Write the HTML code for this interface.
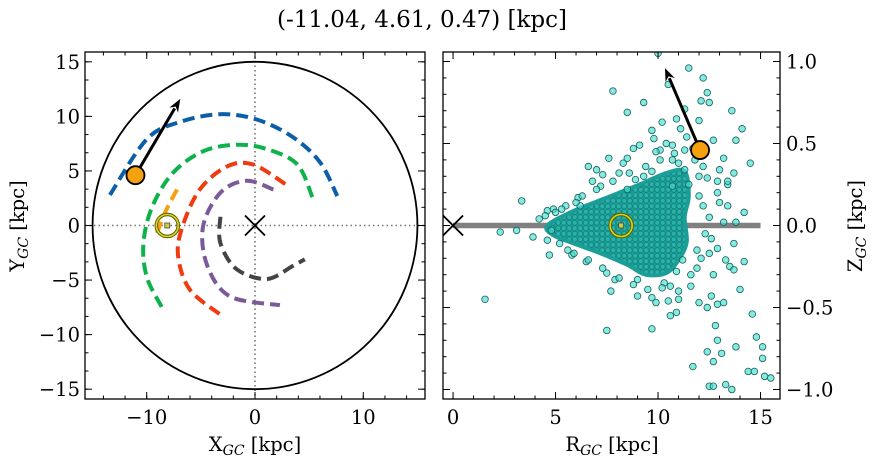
<!DOCTYPE html>
<html><head><meta charset="utf-8">
<style>
html,body{margin:0;padding:0;background:#fff;}
svg{display:block;font-family:"DejaVu Serif","Liberation Serif",serif;}
</style></head>
<body>
<svg id="fig" width="874" height="464" viewBox="0 0 874 464" xmlns="http://www.w3.org/2000/svg">
<defs>
<pattern id="dots" width="5.5" height="5.5" patternUnits="userSpaceOnUse">
<rect width="5.5" height="5.5" fill="#1a9e97"/>
<circle cx="2.75" cy="2.75" r="2.4" fill="#27b3aa" stroke="#137a74" stroke-width="0.6"/>
</pattern>
<clipPath id="clipL"><rect x="85" y="52" width="340" height="347"/></clipPath>
<clipPath id="clipR"><rect x="443" y="52" width="337" height="347"/></clipPath>
</defs>
<text x="422" y="27" font-size="23" text-anchor="middle">(-11.04, 4.61, 0.47) [kpc]</text>
<g id="left"></g>
<g id="right"></g>
</svg>
<script>
// ---------- data ----------
const blueArcX = [-13.4,-10,-6.9,-3.2,0.2,3.5,6.0,7.6];
const blueArcY = [2.8,7.9,9.5,10.2,9.7,8.1,5.8,2.7];
const greenArcX = [5.3,3.9,1.1,-1.7,-4.8,-7.6,-9.5,-10.3,-10,-8.6];
const greenArcY = [2.6,5.6,7.0,7.4,6.8,4.8,1.7,-1.6,-4.7,-7.5];
const redArcX = [2.8,-0.2,-2.6,-5.1,-6.7,-7.1,-6,-3.0];
const redArcY = [3.8,5.6,5.4,3.3,-0.1,-2.8,-5.9,-8.3];
const purpleArcX = [1.7,-0.8,-3.2,-4.8,-4.4,-2.3,2.3];
const purpleArcY = [3.3,4.1,3.0,-0.1,-3.7,-6.5,-7.3];
const grayArcX = [-3.2,-3.2,-1.7,1.1,3.5,4.6];
const grayArcY = [0.8,-1.6,-4.0,-4.9,-3.7,-3.1];
const orangeArcX = [-7.2,-8.3,-9.2];
const orangeArcY = [3.3,1.2,-1.1];
const starXY = [-11.04, 4.61];
const arrowTipXY = [-6.9, 11.6];
const sunXY = [-8.1, 0];
const starRZ = [12.05, 0.46];
const arrowTipRZ = [10.34, 0.96];
const sunRZ = [8.2, 0];
const coreR = [4.6,5.9,7.5,9.1,10.4,11.3,11.5,11.3,11.4,11.0,10.4,9.4,8.5,7.2,5.9,4.9];
const coreZ = [0.0,0.09,0.17,0.25,0.32,0.33,0.18,0.05,-0.10,-0.21,-0.29,-0.30,-0.24,-0.17,-0.11,-0.06];
const ptR = [10.0,11.5,12.2,7.8,10.5,12.4,9.3,8.5,12.1,12.5,13.6,11.3,10.2,10.9,14.1,9.7,12.0,12.7,13.8,14.5,8.8,10.1,6.6,7.0,7.6,8.5,13.2,13.7,13.4,12.9,13.4,14.2,13.8,13.2,3.35,2.3,3.1,3.9,4.7,1.56,7.5,9.7,9.0,7.7,9.7,10.6,10.9,11.6,12.0,12.4,12.6,12.9,13.2,12.8,12.9,13.1,13.8,12.4,12.7,11.7,12.5,12.7,13.3,13.6,14.4,14.7,14.8,15.1,15.1,15.2,15.5,14.6,14.0,14.2,13.7,13.5,13.3,12.9,12.5,12.7,13.7,11.9,11.2,10.6,11.0,10.3,9.0,7.9,7.5,6.5,5.8,5.6,4.2,4.6,4.9,6.1,6.2,11.7,11.4,11.1,10.7,9.8,9.1,8.1,9.3,10.7,11.3,12.2,12.4,13.0,13.4,12.9,13.0,8.5,7.2,10.7,
 5.5,6.3,7.0,7.8,8.6,9.4,10.1,10.8,11.3,9.9,10.4,11.0,12.0,12.2,12.3,12.1,11.6,11.0,10.2,9.5,8.8,8.1,7.3,6.6,5.9,5.2,4.6,4.5,5.0,8.3,7.3,6.8,9.9,10.5,12.5,12.6,11.8,11.5,10.9,9.7,8.9,6.0,5.3,4.8,11.9,12.0];
const ptZ = [1.05,0.96,0.90,0.82,0.86,0.81,0.75,0.69,0.76,0.75,0.70,0.71,0.63,0.65,0.59,0.58,0.64,0.52,0.52,0.38,0.47,0.46,0.36,0.34,0.41,0.41,0.41,0.32,0.25,0.20,0.12,0.08,0.02,0.02,0.15,-0.04,-0.03,-0.07,-0.18,-0.45,-0.64,-0.63,-0.43,-0.40,-0.44,-0.55,-0.53,-0.37,-0.47,-0.50,-0.43,-0.48,-0.47,-0.61,-0.70,-0.78,-0.74,-0.77,-0.83,-0.86,-0.98,-0.98,-0.97,-1.00,-0.89,-0.89,-0.68,-0.74,-0.81,-0.92,-0.93,-0.54,-0.39,-0.22,-0.11,-0.25,-0.21,-0.14,-0.17,-0.30,-0.27,-0.26,-0.21,-0.37,-0.45,-0.35,-0.33,-0.33,-0.29,-0.22,-0.18,-0.15,0.04,0.09,0.10,0.17,0.12,0.47,0.54,0.59,0.49,0.53,0.49,0.32,0.30,0.40,0.34,0.36,0.29,0.34,0.27,0.27,0.14,0.22,0.24,0.24,
 0.12,0.18,0.22,0.27,0.32,0.36,0.40,0.44,0.46,0.45,0.50,0.38,0.30,0.12,-0.05,-0.20,-0.30,-0.40,-0.38,-0.39,-0.36,-0.32,-0.26,-0.21,-0.17,-0.11,-0.09,0.06,0.08,0.38,0.31,0.27,-0.47,-0.46,0.05,-0.08,0.40,0.25,-0.28,0.33,0.28,0.14,0.10,-0.03,-0.15,0.18];
const xTicksL = [-10,0,10];
const yTicksL = [-15,-10,-5,0,5,10,15];
const xTicksR = [0,5,10,15];
const zTicksR = [-1.0,-0.5,0.0,0.5,1.0];

// ---------- helpers ----------
const NS = "http://www.w3.org/2000/svg";
function mk(tag, attrs, parent){const e=document.createElementNS(NS,tag);for(const k in attrs)e.setAttribute(k,attrs[k]);if(parent)parent.appendChild(e);return e;}
const L={x0:85,x1:425,y0:52,y1:399,xmin:-15.7,xmax:15.7,ymin:-15.9,ymax:15.9};
const sxL=v=>L.x0+(v-L.xmin)/(L.xmax-L.xmin)*(L.x1-L.x0);
const syL=v=>L.y1-(v-L.ymin)/(L.ymax-L.ymin)*(L.y1-L.y0);
const R={x0:443,x1:780,y0:52,y1:399,xmin:-0.49,xmax:15.95,ymin:-1.058,ymax:1.058};
const sxR=v=>R.x0+(v-R.xmin)/(R.xmax-R.xmin)*(R.x1-R.x0);
const syR=v=>R.y1-(v-R.ymin)/(R.ymax-R.ymin)*(R.y1-R.y0);

const gL=document.getElementById('left');
const gR=document.getElementById('right');

function smoothPath(xs,ys,sx,sy,closed){
  const p=xs.map((x,i)=>[sx(x),sy(ys[i])]);
  const n=p.length;
  const get=i=>closed?p[(i+n)%n]:p[Math.max(0,Math.min(n-1,i))];
  let d=`M${p[0][0]},${p[0][1]}`;
  const segs=closed?n:n-1;
  for(let i=0;i<segs;i++){
    const p0=get(i-1),p1=get(i),p2=get(i+1),p3=get(i+2);
    const c1=[p1[0]+(p2[0]-p0[0])/6,p1[1]+(p2[1]-p0[1])/6];
    const c2=[p2[0]-(p3[0]-p1[0])/6,p2[1]-(p3[1]-p1[1])/6];
    d+=` C${c1[0]},${c1[1]} ${c2[0]},${c2[1]} ${p2[0]},${p2[1]}`;
  }
  return d+(closed?'Z':'');
}

// ----- left panel -----
const cl=mk('g',{'clip-path':'url(#clipL)'},gL);
let e;
e=mk('line',{x1:L.x0,x2:L.x1,y1:syL(0),y2:syL(0),stroke:'#777','stroke-width':1.6,'stroke-dasharray':'1.5,3'},cl);


e=mk('line',{x1:sxL(0),x2:sxL(0),y1:L.y0,y2:L.y1,stroke:'#777','stroke-width':1.6,'stroke-dasharray':'1.5,3'},cl);


e=mk('ellipse',{cx:sxL(0),cy:syL(0),rx:sxL(15)-sxL(0),ry:syL(0)-syL(15),fill:'none',stroke:'#000','stroke-width':1.8},cl);


const arcs=[[orangeArcX,orangeArcY,'#f5a00f','orbit-orange'],[grayArcX,grayArcY,'#444','orbit-gray'],[purpleArcX,purpleArcY,'#7b5a9a','orbit-purple'],[redArcX,redArcY,'#f03a10','orbit-red'],[greenArcX,greenArcY,'#0db24a','orbit-green'],[blueArcX,blueArcY,'#0c5ea8','orbit-blue']];
arcs.forEach(a=>{
  e=mk('path',{d:smoothPath(a[0],a[1],sxL,syL,false),fill:'none',stroke:a[2],'stroke-width':4,'stroke-dasharray':'12,6'},cl);
  
  
});
function xMarker(g,cx,cy,s,name){
  e=mk('path',{d:`M${cx-s},${cy-s}L${cx+s},${cy+s}M${cx-s},${cy+s}L${cx+s},${cy-s}`,stroke:'#000','stroke-width':1.8},g);
  
  
}
xMarker(cl,sxL(0),syL(0),10,'galactic-center-marker');
function sun(g,cx,cy,name){
  const s=mk('g',{},g);
  
  
  mk('circle',{cx,cy,r:11,fill:'none',stroke:'#5a5a00','stroke-width':3.5},s);
  mk('circle',{cx,cy,r:11,fill:'none',stroke:'#d8d820','stroke-width':1.6},s);
  mk('rect',{x:cx-2.5,y:cy-2.5,width:5,height:5,fill:'#c8d040',stroke:'#444','stroke-width':0.8},s);
}
sun(cl,sxL(sunXY[0]),syL(sunXY[1]),'sun-marker-xy');
function arrow(g,x1,y1,x2,y2,name){
  const ag=mk('g',{},g);
  
  
  const dx=x2-x1,dy=y2-y1,len=Math.hypot(dx,dy),ux=dx/len,uy=dy/len;
  const hl=13,hw=5;
  const bx=x2-ux*hl,by=y2-uy*hl;
  mk('line',{x1,y1,x2:bx+ux*2,y2:by+uy*2,stroke:'#000','stroke-width':3},ag);
  mk('path',{d:`M${x2},${y2}L${bx-uy*hw},${by+ux*hw}L${bx+ux*4},${by+uy*4}L${bx+uy*hw},${by-ux*hw}Z`,fill:'#000'},ag);
}
arrow(cl,sxL(starXY[0]),syL(starXY[1]),sxL(arrowTipXY[0]),syL(arrowTipXY[1]),'velocity-arrow-xy');
e=mk('circle',{cx:sxL(starXY[0]),cy:syL(starXY[1]),r:9,fill:'#f5a00f',stroke:'#000','stroke-width':1.8},cl);



// ----- right panel -----
const cr=mk('g',{'clip-path':'url(#clipR)'},gR);
e=mk('line',{x1:sxR(0),x2:sxR(15),y1:syR(0),y2:syR(0),stroke:'#808080','stroke-width':5.5},cr);


e=mk('path',{d:smoothPath(coreR,coreZ,sxR,syR,true),fill:'url(#dots)',stroke:'#1a9e97','stroke-width':4,'stroke-linejoin':'round'},cr);


ptR.forEach((r,i)=>{
  const c=mk('circle',{cx:sxR(r),cy:syR(ptZ[i]),r:3.3,fill:'#40e0d0','fill-opacity':0.65,stroke:'#1b5e5a','stroke-width':0.8},cr);
  
  
});
sun(cr,sxR(sunRZ[0]),syR(sunRZ[1]),'sun-marker-rz');
xMarker(cr,sxR(0),syR(0),10,'galactic-center-marker-rz');
arrow(cr,sxR(starRZ[0]),syR(starRZ[1]),sxR(arrowTipRZ[0]),syR(arrowTipRZ[1]),'velocity-arrow-rz');
e=mk('circle',{cx:sxR(starRZ[0]),cy:syR(starRZ[1]),r:9,fill:'#f5a00f',stroke:'#000','stroke-width':1.8},cr);



// ----- axes frames & ticks -----
function frame(g,A,name){
  e=mk('rect',{x:A.x0,y:A.y0,width:A.x1-A.x0,height:A.y1-A.y0,fill:'none',stroke:'#000','stroke-width':1.3},g);
  
  
}
function tick(g,x1,y1,x2,y2){mk('line',{x1,y1,x2,y2,stroke:'#000','stroke-width':1},g);}
function xticks(g,A,sx,from,to,step,len){for(let v=from;v<=to+1e-9;v+=step){const x=sx(v);if(x<A.x0+0.5||x>A.x1-0.5)continue;tick(g,x,A.y1,x,A.y1-len);tick(g,x,A.y0,x,A.y0+len);}}
function yticks(g,A,sy,from,to,step,len){for(let v=from;v<=to+1e-9;v+=step){const y=sy(v);if(y<A.y0+0.5||y>A.y1-0.5)continue;tick(g,A.x0,y,A.x0+len,y);tick(g,A.x1,y,A.x1-len,y);}}
frame(gL,L,'xy-axes-frame');
xticks(gL,L,sxL,-14,14,2,3.5);xticks(gL,L,sxL,-10,10,10,7);
yticks(gL,L,syL,-15,15,5/3,3.5);yticks(gL,L,syL,-15,15,5,7);
frame(gR,R,'rz-axes-frame');
xticks(gR,R,sxR,0,15,1,3.5);xticks(gR,R,sxR,0,15,5,7);
yticks(gR,R,syR,-1,1,0.1,3.5);yticks(gR,R,syR,-1,1,0.5,7);

function lbl(g,x,y,t,anchor,name,size){
  const el=mk('text',{x,y,'font-size':size||19.5,'text-anchor':anchor},g);el.textContent=t;
  
  
  return el;
}
const fmt=v=>(v<0?'\u2212':'')+Math.abs(v);
xTicksL.forEach(v=>lbl(gL,sxL(v),L.y1+25,fmt(v),'middle','x-tick-label'));
yTicksL.forEach(v=>lbl(gL,L.x0-5,syL(v)+7,fmt(v),'end','y-tick-label'));
xTicksR.forEach(v=>lbl(gR,sxR(v),R.y1+25,fmt(v),'middle','r-tick-label'));
zTicksR.forEach(v=>lbl(gR,R.x1+6,syR(v)+7,(v<0?'\u2212':'')+Math.abs(v).toFixed(1),'start','z-tick-label'));

function axisTitle(g,x,y,main,sub,rot,name){
  const t=mk('text',{x,y,'font-size':19.5,'text-anchor':'middle',transform:rot?`rotate(-90 ${x} ${y})`:''},g);
  
  
  const a=mk('tspan',{},t);a.textContent=main;
  const b=mk('tspan',{'font-size':14,'font-style':'italic',dy:4},t);b.textContent=sub;
  const c=mk('tspan',{dy:-4},t);c.textContent=' [kpc]';
}
axisTitle(gL,255,451,'X','GC',false,'x-axis-title');
axisTitle(gR,612,451,'R','GC',false,'r-axis-title');
axisTitle(gL,24,226,'Y','GC',true,'y-axis-title');
axisTitle(gR,862,226,'Z','GC',true,'z-axis-title');
</script>
</body></html>
